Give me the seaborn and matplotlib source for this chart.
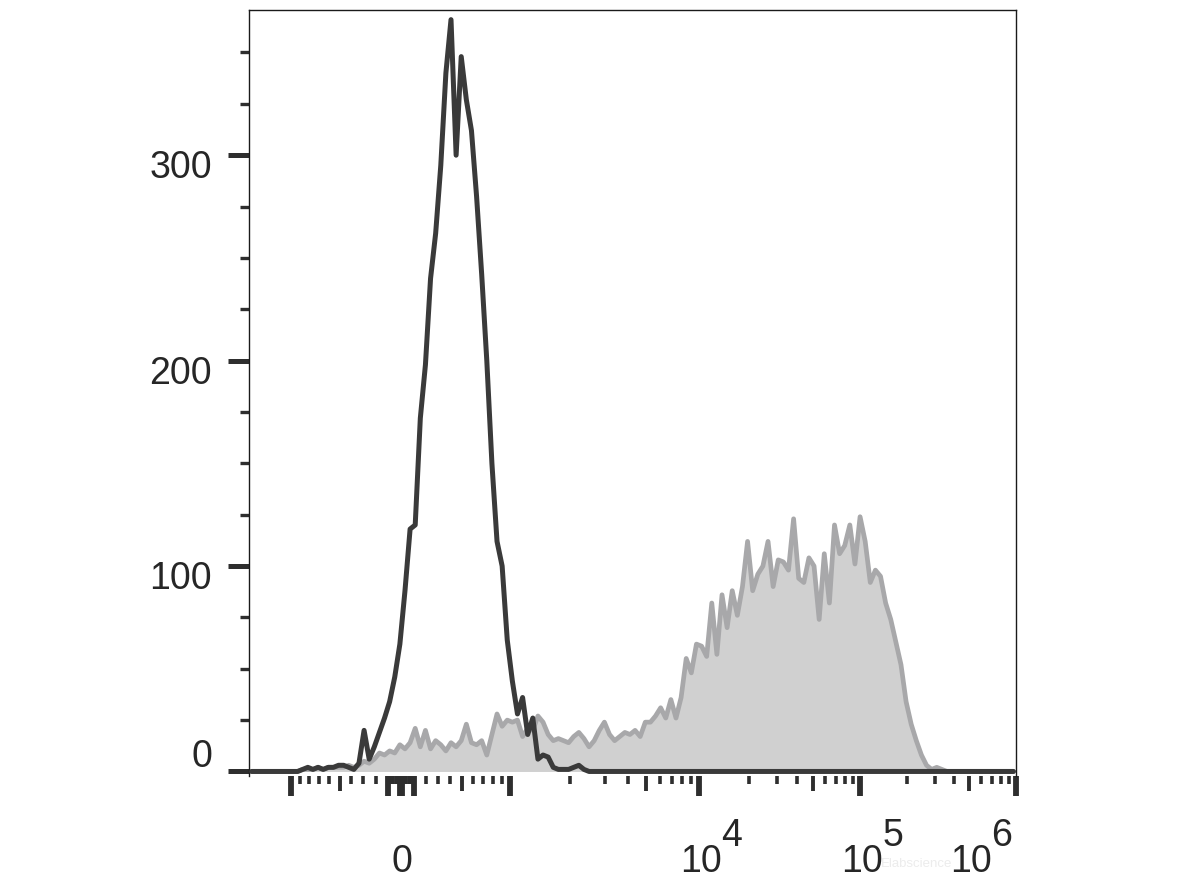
import numpy as np
import pandas as pd
import matplotlib
matplotlib.use("Agg")
import matplotlib.pyplot as plt
import matplotlib.transforms as mtransforms
import seaborn as sns

# Counts per channel, 150 channels spread evenly over the displayed (biexponential) range
isotype_counts = [
    0, 0, 0, 0, 0, 0, 0, 0, 0, 0,
    1, 2, 1, 2, 1, 2, 2, 3, 3, 2, 1, 4,
    20, 6, 12, 19, 26, 34, 46, 62, 88, 118, 120, 172, 198, 240,
    262, 295, 340, 366, 300, 348, 327, 312, 280, 242, 200, 150, 112, 100,
    64, 44, 28, 36, 18, 26, 6, 8, 7, 2, 1, 1, 1, 2, 3, 1,
] + [0] * 84

stained_counts = [
    0, 0, 0, 0, 0, 0, 0, 0, 0, 0,
    1, 1, 1, 2, 1, 2, 2, 2, 2, 3, 2, 3,
    5, 4, 6, 9, 8, 10, 9, 13, 11, 14, 21, 12, 20, 11,
    15, 13, 10, 14, 12, 15, 23, 14, 13, 15, 8, 18, 28, 22,
    25, 24, 25, 17, 21, 20, 27, 24, 18, 15, 16, 15, 14, 17, 19, 16,
    12, 15, 20, 24, 18, 15, 17, 19, 18, 20, 17, 24, 24, 27,
    31, 26, 35, 26, 36, 55, 48, 62, 61, 56, 82, 57, 86, 70,
    88, 76, 90, 112, 88, 96, 100, 112, 90, 103, 102, 98, 123, 94,
    92, 104, 100, 74, 106, 82, 120, 106, 110, 120, 101, 124, 112, 92,
    98, 95, 82, 74, 63, 52, 34, 23, 15, 8, 3, 1, 2, 1,
] + [0] * 14

# Axis ticks and labels
y_major = [0, 100, 200, 300]
y_minor = [25, 50, 75, 125, 150, 175, 225, 250, 275, 325, 350]
y_labels = ["0", "100", "200", "300"]

x_major = [-1000, -100, -10, 0, 10, 100, 1000, 10000, 100000, 1000000]
x_medium = [-500, 500, 5000, 50000, 500000]
x_minor = [m * 10 ** k for k in range(1, 6) for m in (2, 3, 4, 6, 7, 8, 9)]
x_minor += [-m * 10 ** k for k in range(1, 3) for m in (2, 3, 4, 6, 7, 8, 9)]
x_label_values = [0, 10000, 100000, 1000000]
x_label_bases = ["0", "10", "10", "10"]
x_label_exps = ["", "4", "5", "6"]

# Logicle display transform (display unit = decades measured from zero)
T, M, W = 1e6, 4.92, 0.95
lo, hi = 1.0001, 50.0
for _ in range(100):
    mid = (lo + hi) / 2
    if 2 * mid * np.log(mid) / (mid + 1) < W * np.log(10):
        lo = mid
    else:
        hi = mid
p = (lo + hi) / 2


def to_data(z):
    z = np.asarray(z, dtype=float)
    a = np.abs(z)
    s = T * 10 ** -(M - W) * (10 ** a - p ** 2 * 10 ** (-a / p) + p ** 2 - 1)
    return np.sign(z) * s


grid = np.linspace(-3, 6, 20001)
grid_data = to_data(grid)


def to_display(x):
    return np.interp(np.asarray(x, dtype=float), grid_data, grid)


z_min, z_max = -0.98, M - W
n_ch = len(isotype_counts)
ch_display = z_min + (np.arange(n_ch) + 0.5) * (z_max - z_min) / n_ch
df = pd.DataFrame({
    "intensity": to_data(ch_display),
    "isotype": isotype_counts,
    "stained": stained_counts,
})

sns.set_style("white")
plt.rcParams["font.family"] = ["Liberation Sans", "DejaVu Sans"]
text_color = "#262626"

fig = plt.figure(figsize=(11.78, 8.83), dpi=100)
ax = fig.add_axes([0.2114, 0.1212, 0.6511, 0.8675])

# Filled stained histogram, then the isotype line on top
ax.fill_between(df["intensity"], df["stained"], 0, color="#d0d0d0", lw=0, zorder=1)
sns.lineplot(data=df, x="intensity", y="stained", color="#a8a8aa", lw=3.4, ax=ax, zorder=2)
sns.lineplot(data=df, x="intensity", y="isotype", color="#3a3a3a", lw=3.6, ax=ax, zorder=3)

ax.set_xscale("function", functions=(to_display, to_data))
ax.set_xlim(to_data(z_min), to_data(z_max))
ax.set_ylim(-2.2, 370.7)
ax.set_xlabel("")
ax.set_ylabel("")

for side in ["left", "top", "right"]:
    ax.spines[side].set_color("#1a1a1a")
    ax.spines[side].set_linewidth(1.0)
ax.spines["bottom"].set_visible(False)

# y ticks
ax.set_yticks(y_major)
ax.set_yticks(y_minor, minor=True)
ax.tick_params(axis="y", which="major", direction="out", length=15, width=3.6,
               color="#2e2e2e", labelleft=False, left=True)
ax.tick_params(axis="y", which="minor", direction="out", length=6.5, width=2.4,
               color="#2e2e2e", left=True)

# x ticks: long decades, medium at 5x, short for the rest
x_ticks_all = sorted(x_major + x_medium)
ax.set_xticks(x_ticks_all)
ax.set_xticks(sorted(x_minor), minor=True)
ax.tick_params(axis="x", which="major", direction="out", length=14.4, width=4.2,
               color="#2e2e2e", labelbottom=False, bottom=True)
ax.tick_params(axis="x", which="minor", direction="out", length=6, width=2.6,
               color="#2e2e2e", bottom=True)
for tick, val in zip(ax.xaxis.get_major_ticks(len(x_ticks_all)), x_ticks_all):
    if val in x_medium:
        tick.tick1line.set_markersize(10.8)
        tick.tick1line.set_markeredgewidth(2.8)

# y tick labels (the 0 sits above its tick, the others below)
ytrans = mtransforms.blended_transform_factory(ax.transAxes, ax.transData)
for val, lab in zip(y_major, y_labels):
    dy = 14 if val == 0 else -13
    off = mtransforms.ScaledTranslation(0, dy / 100, fig.dpi_scale_trans)
    ax.text(-0.048, val, lab, transform=ytrans + off, ha="right", va="center",
            fontsize=27, color=text_color)

# x tick labels with full size exponents
xtrans = mtransforms.blended_transform_factory(ax.transData, fig.transFigure)
for val, base, exp in zip(x_label_values, x_label_bases, x_label_exps):
    shift = -45 if val == 1000000 else 2
    if val == 0:
        shift = 1
    off = mtransforms.ScaledTranslation(shift / 100, 0, fig.dpi_scale_trans)
    ax.text(val, 0.0235, base, transform=xtrans + off, ha="center", va="center",
            fontsize=27, color=text_color, clip_on=False)
    if exp:
        off2 = mtransforms.ScaledTranslation((shift + 31) / 100, 0, fig.dpi_scale_trans)
        ax.text(val, 0.0535, exp, transform=xtrans + off2, ha="center", va="center",
                fontsize=27, color=text_color, clip_on=False)

# faint watermark
fig.text(0.778, 0.022, "Elabscience", fontsize=9.5, color="#ececec", ha="center", va="center")

fig.savefig("out.png", dpi=100)
